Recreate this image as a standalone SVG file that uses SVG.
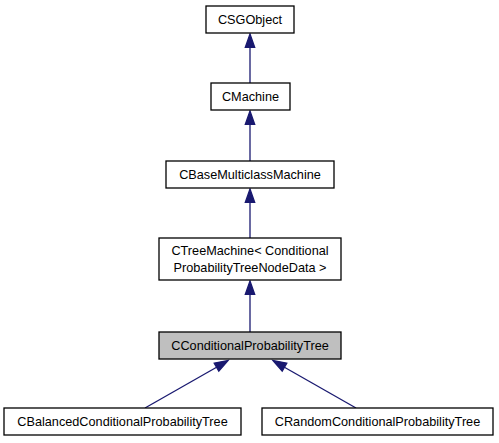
<svg xmlns="http://www.w3.org/2000/svg" width="499" height="443" viewBox="0 0 499 443">
<style>
.box{fill:#ffffff;stroke:#000000;stroke-width:1.3}
.cur{fill:#bfbfbf;stroke:#000000;stroke-width:1.3}
text{font-family:"Liberation Sans",Arial,Helvetica,sans-serif;font-size:12.7px;fill:#000000;text-anchor:middle}
.edge{stroke:#191970;stroke-width:1.3;fill:none}
.head{fill:#191970;stroke:#191970;stroke-width:1.3}
</style>
<rect width="499" height="443" fill="#ffffff"/>
<g id="connectors">
<path class="edge" d="M250,83 L250,47"/>
<polygon class="head" points="250,34 254.7,47.3 245.3,47.3"/>
<path class="edge" d="M250,161 L250,124"/>
<polygon class="head" points="250,111 254.7,124.3 245.3,124.3"/>
<path class="edge" d="M250,238 L250,202"/>
<polygon class="head" points="250,189 254.7,202.3 245.3,202.3"/>
<path class="edge" d="M250,332 L250,294"/>
<polygon class="head" points="250,281 254.7,294.3 245.3,294.3"/>
<path class="edge" d="M145,408 L217,367"/>
<polygon class="head" points="228,360.5 218.8,371.2 214.2,363.1"/>
<path class="edge" d="M356,408 L284,367"/>
<polygon class="head" points="273,360.5 282.2,371.2 286.8,363.1"/>
</g>
<g id="CSGObject">
<rect class="box" x="206" y="6" width="88" height="27"/>
<text x="250" y="24">CSGObject</text>
</g>
<g id="CMachine">
<rect class="box" x="211" y="83" width="79" height="27"/>
<text x="250.5" y="101">CMachine</text>
</g>
<g id="CBaseMulticlassMachine">
<rect class="box" x="166" y="161" width="168" height="27"/>
<text x="250" y="179">CBaseMulticlassMachine</text>
</g>
<g id="CTreeMachine">
<rect class="box" x="159" y="238" width="182" height="42"/>
<text x="250" y="255">CTreeMachine&lt; Conditional</text>
<text x="250" y="272">ProbabilityTreeNodeData &gt;</text>
</g>
<g id="CConditionalProbabilityTree">
<rect class="cur" x="159" y="332" width="182" height="27"/>
<text x="250" y="350">CConditionalProbabilityTree</text>
</g>
<g id="CBalancedConditionalProbabilityTree">
<rect class="box" x="4" y="408" width="237" height="27"/>
<text x="122.5" y="426">CBalancedConditionalProbabilityTree</text>
</g>
<g id="CRandomConditionalProbabilityTree">
<rect class="box" x="262" y="408" width="231" height="27"/>
<text x="377.5" y="426">CRandomConditionalProbabilityTree</text>
</g>
</svg>
